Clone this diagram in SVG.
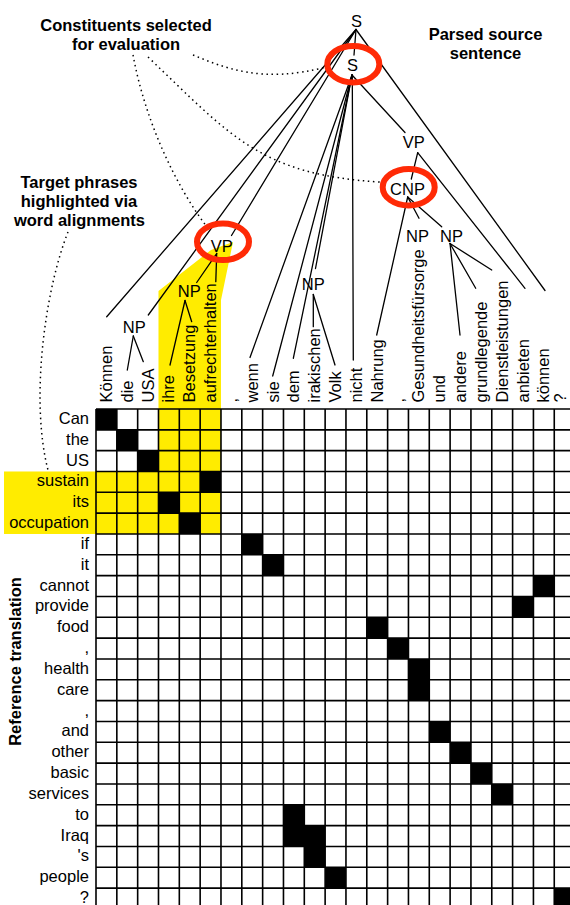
<svg xmlns="http://www.w3.org/2000/svg" xmlns:xlink="http://www.w3.org/1999/xlink" width="570" height="905" viewBox="0 0 570 905">
<style>
.t{font-family:"Liberation Sans",Arial,Helvetica,sans-serif;font-size:16.5px;fill:#000}
.b{font-weight:bold}
.m{text-anchor:middle}
.e{text-anchor:end}
.ln{stroke:#000;stroke-width:1.3;fill:none;stroke-linecap:round}
.dot{stroke:#000;stroke-width:1.5;fill:none;stroke-dasharray:1.5 3.6}
.ring{fill:none;stroke:#ff2a06;stroke-width:6}
.hl{fill:#ffec00}
.grid{stroke:#000;stroke-width:1.6;fill:none}
</style>
<defs>
<rect id="blk" width="20.83" height="20.83" fill="#000"/>
</defs>
<rect width="570" height="905" fill="#fff"/>

<g id="highlight">
<rect class="hl" x="4" y="471.49" width="216.98" height="62.49"/>
<polygon class="hl" points="158.49,471.49 158.49,291 211,250 233,242 221,300 220.98,471.49"/>
</g>

<g id="alignments">
<use xlink:href="#blk" x="96" y="409"/>
<use xlink:href="#blk" x="116.83" y="429.83"/>
<use xlink:href="#blk" x="137.66" y="450.66"/>
<use xlink:href="#blk" x="200.15" y="471.49"/>
<use xlink:href="#blk" x="158.49" y="492.32"/>
<use xlink:href="#blk" x="179.32" y="513.15"/>
<use xlink:href="#blk" x="241.81" y="533.98"/>
<use xlink:href="#blk" x="262.64" y="554.81"/>
<use xlink:href="#blk" x="533.43" y="575.64"/>
<use xlink:href="#blk" x="512.6" y="596.47"/>
<use xlink:href="#blk" x="366.79" y="617.3"/>
<use xlink:href="#blk" x="387.62" y="638.13"/>
<use xlink:href="#blk" x="408.45" y="658.96"/>
<use xlink:href="#blk" x="408.45" y="679.79"/>
<use xlink:href="#blk" x="429.28" y="721.45"/>
<use xlink:href="#blk" x="450.11" y="742.28"/>
<use xlink:href="#blk" x="470.94" y="763.11"/>
<use xlink:href="#blk" x="491.77" y="783.94"/>
<use xlink:href="#blk" x="283.47" y="804.77"/>
<use xlink:href="#blk" x="283.47" y="825.6"/>
<use xlink:href="#blk" x="304.3" y="825.6"/>
<use xlink:href="#blk" x="304.3" y="846.43"/>
<use xlink:href="#blk" x="325.13" y="867.26"/>
<use xlink:href="#blk" x="554.26" y="888.09"/>
</g>

<g id="grid">
<path class="grid" d="M96 409H570M96 429.83H570M96 450.66H570M96 471.49H570M96 492.32H570M96 513.15H570M96 533.98H570M96 554.81H570M96 575.64H570M96 596.47H570M96 617.3H570M96 638.13H570M96 658.96H570M96 679.79H570M96 700.62H570M96 721.45H570M96 742.28H570M96 763.11H570M96 783.94H570M96 804.77H570M96 825.6H570M96 846.43H570M96 867.26H570M96 888.09H570"/>
<path class="grid" d="M96 409V905M116.83 409V905M137.66 409V905M158.49 409V905M179.32 409V905M200.15 409V905M220.98 409V905M241.81 409V905M262.64 409V905M283.47 409V905M304.3 409V905M325.13 409V905M345.96 409V905M366.79 409V905M387.62 409V905M408.45 409V905M429.28 409V905M450.11 409V905M470.94 409V905M491.77 409V905M512.6 409V905M533.43 409V905M554.26 409V905"/>
</g>

<g id="connectors">
<path class="ln" d="M356 29.5L354 55"/>
<path class="ln" d="M356 29.5L106.7 316.7"/>
<path class="ln" d="M356 29.5L148.3 315"/>
<path class="ln" d="M356 29.5L231.5 235.5"/>
<path class="ln" d="M356 29.5L545 290.5"/>
<path class="ln" d="M352 75L250 357.5"/>
<path class="ln" d="M352 75L272.7 376"/>
<path class="ln" d="M352 75L293.3 358.3"/>
<path class="ln" d="M352 75L315.5 268.5"/>
<path class="ln" d="M352.3 75L353.3 360"/>
<path class="ln" d="M352 75L405 132.5"/>
<path class="ln" d="M417.7 152.7L411.3 179"/>
<path class="ln" d="M417.7 152.7L525 288.3"/>
<path class="ln" d="M407.7 197L376.7 335"/>
<path class="ln" d="M407.7 197L419 218.3"/>
<path class="ln" d="M407.7 197L441.7 226.7"/>
<path class="ln" d="M450 243.5L460 335"/>
<path class="ln" d="M450 243.5L475.7 288.3"/>
<path class="ln" d="M450 243.5L491.7 270"/>
<path class="ln" d="M313.3 294.5L313.3 326.7"/>
<path class="ln" d="M313.3 294.5L335 365"/>
<path class="ln" d="M216.7 253.5L196.7 282.5"/>
<path class="ln" d="M216.7 253.5L215.8 281.7"/>
<path class="ln" d="M185 300.5L170 365"/>
<path class="ln" d="M185 300.5L191.7 321.7"/>
<path class="ln" d="M133.3 336L127.3 370"/>
<path class="ln" d="M133.3 336L143.3 361.7"/>
<path class="dot" d="M193 55C225 68 262 84 326 67"/>
<path class="dot" d="M148 57C230 135 260 175 380 182"/>
<path class="dot" d="M133 55C145 120 175 185 207 227"/>
<path class="dot" d="M68 232C45 290 30 400 48 470"/>
</g>

<g id="node-S-root"><text class="t m" x="356.5" y="26.7">S</text></g>
<g id="node-S"><text class="t m" x="352.4" y="71">S</text><ellipse class="ring" cx="353.3" cy="64.2" rx="26" ry="18.3"/></g>
<g id="node-VP-right"><text class="t m" x="413.7" y="148">VP</text></g>
<g id="node-CNP"><text class="t m" x="407.5" y="194.8">CNP</text><ellipse class="ring" cx="408.7" cy="187.2" rx="26" ry="18.3"/></g>
<g id="node-NP-1"><text class="t m" x="417.5" y="241.7">NP</text></g>
<g id="node-NP-2"><text class="t m" x="451.5" y="241.7">NP</text></g>
<g id="node-NP-3"><text class="t m" x="313.3" y="290">NP</text></g>
<g id="node-VP-left"><text class="t m" x="221.7" y="252">VP</text><ellipse class="ring" cx="223" cy="241.8" rx="26" ry="18.3"/></g>
<g id="node-NP-4"><text class="t m" x="189.2" y="296.7">NP</text></g>
<g id="node-NP-5"><text class="t m" x="134.2" y="333">NP</text></g>

<g id="source-words">
<g id="src-0"><text class="t" transform="translate(111.9 402.5) rotate(-90)">Können</text></g>
<g id="src-1"><text class="t" transform="translate(132.7 402.5) rotate(-90)">die</text></g>
<g id="src-2"><text class="t" transform="translate(153.6 402.5) rotate(-90)">USA</text></g>
<g id="src-3"><text class="t" transform="translate(174.4 402.5) rotate(-90)">ihre</text></g>
<g id="src-4"><text class="t" transform="translate(195.2 402.5) rotate(-90)">Besetzung</text></g>
<g id="src-5"><text class="t" transform="translate(216.1 402.5) rotate(-90)">aufrechterhalten</text></g>
<g id="src-6"><text class="t" transform="translate(236.9 402.5) rotate(-90)">,</text></g>
<g id="src-7"><text class="t" transform="translate(257.7 402.5) rotate(-90)">wenn</text></g>
<g id="src-8"><text class="t" transform="translate(278.5 402.5) rotate(-90)">sie</text></g>
<g id="src-9"><text class="t" transform="translate(299.4 402.5) rotate(-90)">dem</text></g>
<g id="src-10"><text class="t" transform="translate(320.2 402.5) rotate(-90)">irakischen</text></g>
<g id="src-11"><text class="t" transform="translate(341 402.5) rotate(-90)">Volk</text></g>
<g id="src-12"><text class="t" transform="translate(361.9 402.5) rotate(-90)">nicht</text></g>
<g id="src-13"><text class="t" transform="translate(382.7 402.5) rotate(-90)">Nahrung</text></g>
<g id="src-14"><text class="t" transform="translate(403.5 402.5) rotate(-90)">,</text></g>
<g id="src-15"><text class="t" transform="translate(424.4 402.5) rotate(-90)">Gesundheitsfürsorge</text></g>
<g id="src-16"><text class="t" transform="translate(445.2 402.5) rotate(-90)">und</text></g>
<g id="src-17"><text class="t" transform="translate(466 402.5) rotate(-90)">andere</text></g>
<g id="src-18"><text class="t" transform="translate(486.8 402.5) rotate(-90)">grundlegende</text></g>
<g id="src-19"><text class="t" transform="translate(507.7 402.5) rotate(-90)">Dienstleistungen</text></g>
<g id="src-20"><text class="t" transform="translate(528.5 402.5) rotate(-90)">anbieten</text></g>
<g id="src-21"><text class="t" transform="translate(549.3 402.5) rotate(-90)">können</text></g>
<g id="src-22"><text class="t" transform="translate(566 402.5) rotate(-90)">?</text></g>
</g>

<g id="target-words">
<g id="tgt-0"><text class="t e" x="89" y="423.9">Can</text></g>
<g id="tgt-1"><text class="t e" x="89" y="444.7">the</text></g>
<g id="tgt-2"><text class="t e" x="89" y="465.6">US</text></g>
<g id="tgt-3"><text class="t e" x="89" y="486.4">sustain</text></g>
<g id="tgt-4"><text class="t e" x="89" y="507.2">its</text></g>
<g id="tgt-5"><text class="t e" x="89" y="528.1">occupation</text></g>
<g id="tgt-6"><text class="t e" x="89" y="548.9">if</text></g>
<g id="tgt-7"><text class="t e" x="89" y="569.7">it</text></g>
<g id="tgt-8"><text class="t e" x="89" y="590.5">cannot</text></g>
<g id="tgt-9"><text class="t e" x="89" y="611.4">provide</text></g>
<g id="tgt-10"><text class="t e" x="89" y="632.2">food</text></g>
<g id="tgt-11"><text class="t e" x="89" y="653">,</text></g>
<g id="tgt-12"><text class="t e" x="89" y="673.9">health</text></g>
<g id="tgt-13"><text class="t e" x="89" y="694.7">care</text></g>
<g id="tgt-14"><text class="t e" x="89" y="715.5">,</text></g>
<g id="tgt-15"><text class="t e" x="89" y="736.4">and</text></g>
<g id="tgt-16"><text class="t e" x="89" y="757.2">other</text></g>
<g id="tgt-17"><text class="t e" x="89" y="778">basic</text></g>
<g id="tgt-18"><text class="t e" x="89" y="798.8">services</text></g>
<g id="tgt-19"><text class="t e" x="89" y="819.7">to</text></g>
<g id="tgt-20"><text class="t e" x="89" y="840.5">Iraq</text></g>
<g id="tgt-21"><text class="t e" x="89" y="861.3">'s</text></g>
<g id="tgt-22"><text class="t e" x="89" y="882.2">people</text></g>
<g id="tgt-23"><text class="t e" x="89" y="903">?</text></g>
</g>

<g id="annotations">
<text class="t b m" x="126" y="31">Constituents selected</text>
<text class="t b m" x="126" y="49.5">for evaluation</text>
<text class="t b m" x="79" y="188.3">Target phrases</text>
<text class="t b m" x="79" y="207">highlighted via</text>
<text class="t b m" x="79.5" y="225.7">word alignments</text>
<text class="t b m" x="485.5" y="40">Parsed source</text>
<text class="t b m" x="485.5" y="58.8">sentence</text>
<text class="t b m" transform="translate(20.5 661.5) rotate(-90)">Reference translation</text>
</g>
</svg>
